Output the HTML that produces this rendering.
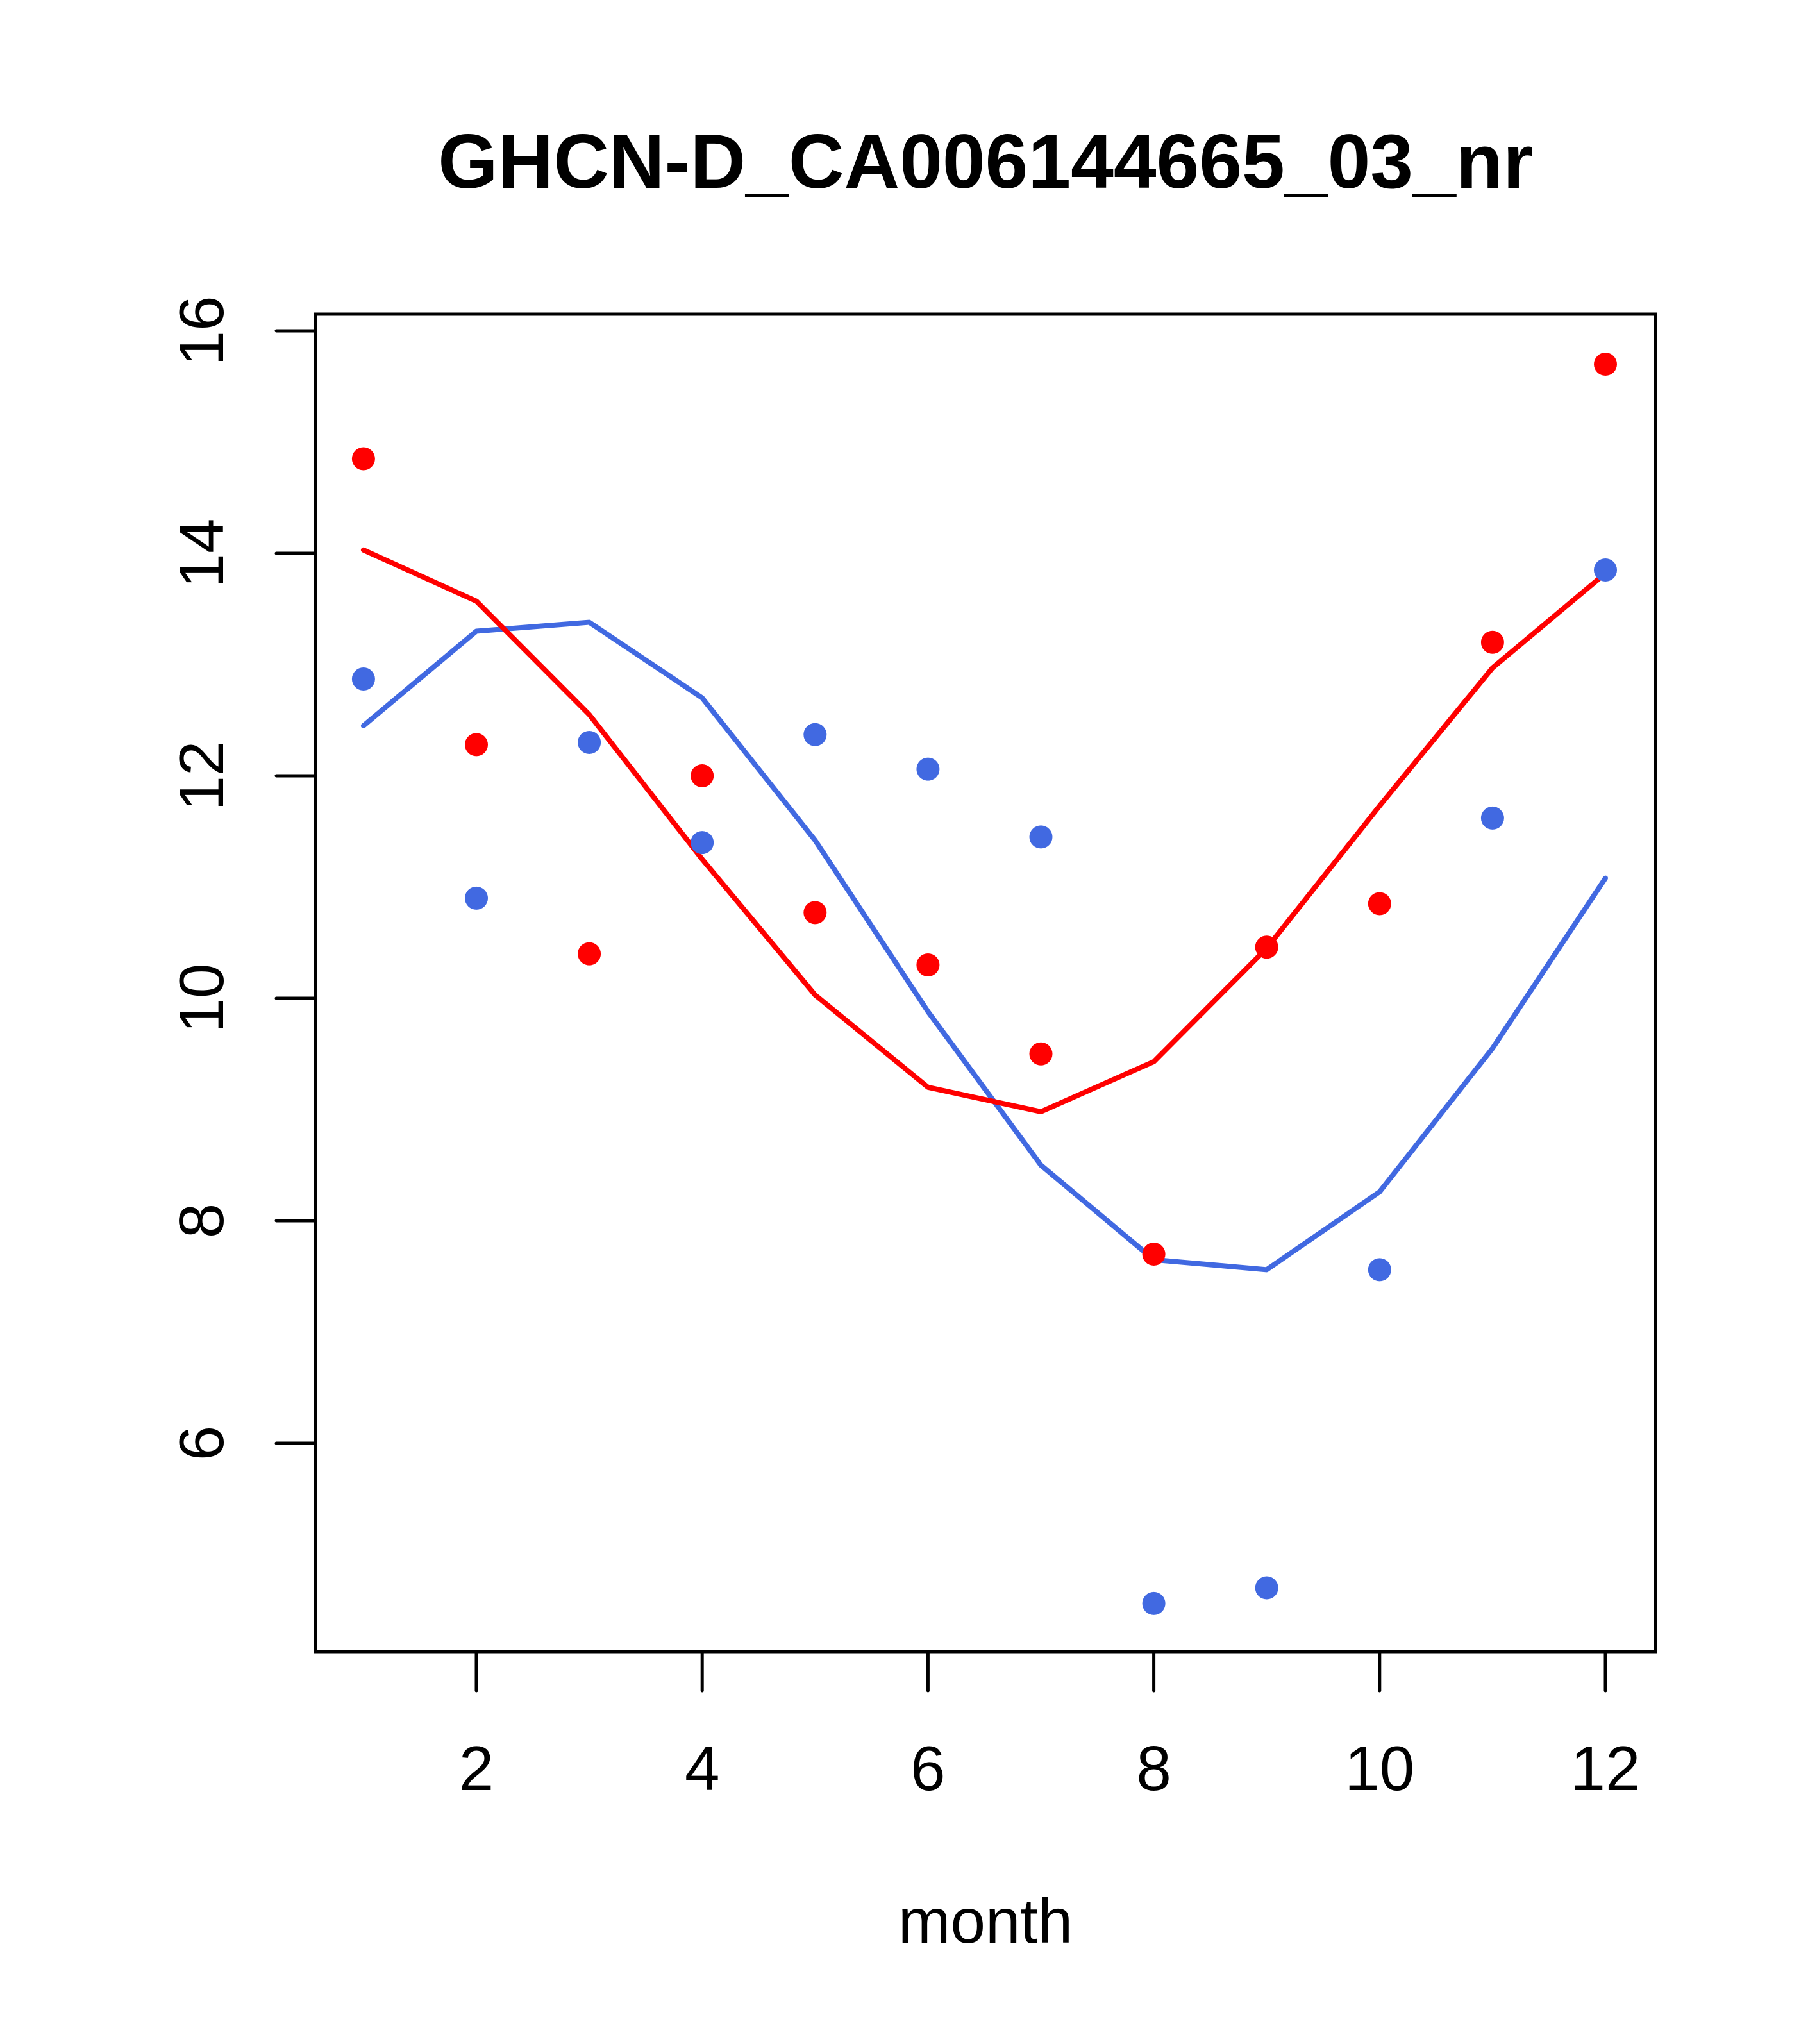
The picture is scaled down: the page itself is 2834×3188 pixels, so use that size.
<!DOCTYPE html>
<html><head><meta charset="utf-8"><style>html,body{margin:0;padding:0;background:#fff}svg{display:block}</style></head>
<body>
<svg id="chart" width="2834" height="3188" viewBox="0 0 2834 3188" xmlns="http://www.w3.org/2000/svg" font-family="'Liberation Sans', Arial, sans-serif">
<rect width="2834" height="3188" fill="#fff"/>
<text x="1537" y="293" font-size="120" font-weight="bold" text-anchor="middle">GHCN-D_CA006144665_03_nr</text>
<text x="1537" y="3030" font-size="98" text-anchor="middle">month</text>
<g id="axes"></g>
<g id="series"></g>
<rect x="492" y="490" width="2090" height="2086" fill="none" stroke="#000" stroke-width="5"/>
</svg>
<script>
const months = [1,2,3,4,5,6,7,8,9,10,11,12];
const redPoints = [14.85,12.28,10.4,12.0,10.77,10.3,9.5,7.7,10.46,10.85,13.2,15.7];
const bluePoints = [12.87,10.9,12.3,11.4,12.37,12.06,11.45,4.56,4.7,7.56,11.62,13.85];
const redLine = [14.03,13.57,12.55,11.25,10.03,9.2,8.98,9.43,10.45,11.73,12.97,13.82];
const blueLine = [12.45,13.3,13.38,12.7,11.42,9.88,8.5,7.65,7.56,8.26,9.55,11.08];
const xTicks = [2,4,6,8,10,12];
const yTicks = [6,8,10,12,14,16];

const NS = 'http://www.w3.org/2000/svg';
function xs(m){ return 743 + (m-2)*176.1; }
function ys(v){ return 516 + (16-v)*173.5; }
function mk(tag, attrs, parent){
  const e = document.createElementNS(NS, tag);
  for (const k in attrs) e.setAttribute(k, attrs[k]);
  parent.appendChild(e);
  return e;
}
const axes = document.getElementById('axes');
const series = document.getElementById('series');

xTicks.forEach(t => {
  const l = mk('line', {x1: xs(t), x2: xs(t), y1: 2576, y2: 2637, stroke: '#000', 'stroke-width': 5, 'stroke-linecap': 'round'}, axes);
  
  
  const tx = mk('text', {x: xs(t), y: 2792, 'font-size': 98, 'text-anchor': 'middle'}, axes);
  tx.textContent = t;
  
  
});
yTicks.forEach(t => {
  const l = mk('line', {x1: 431, x2: 492, y1: ys(t), y2: ys(t), stroke: '#000', 'stroke-width': 5, 'stroke-linecap': 'round'}, axes);
  
  
  const tx = mk('text', {x: 0, y: 0, 'font-size': 98, 'text-anchor': 'middle', transform: 'translate(348,' + ys(t) + ') rotate(-90)'}, axes);
  tx.textContent = t;
  
  
});

function drawLine(vals, color, name){
  const pts = vals.map((v,i) => xs(months[i]) + ',' + ys(v)).join(' ');
  const p = mk('polyline', {points: pts, fill: 'none', stroke: color, 'stroke-width': 8, 'stroke-linejoin': 'round', 'stroke-linecap': 'round'}, series);
  
  
}
function drawPoints(vals, color, name){
  vals.forEach((v,i) => {
    const c = mk('circle', {cx: xs(months[i]), cy: ys(v), r: 18, fill: color}, series);
    
    
  });
}
drawLine(blueLine, '#4169E1', 'blue-line');
drawLine(redLine, '#FF0000', 'red-line');
drawPoints(bluePoints, '#4169E1', 'blue-point');
drawPoints(redPoints, '#FF0000', 'red-point');
</script>
</body></html>
